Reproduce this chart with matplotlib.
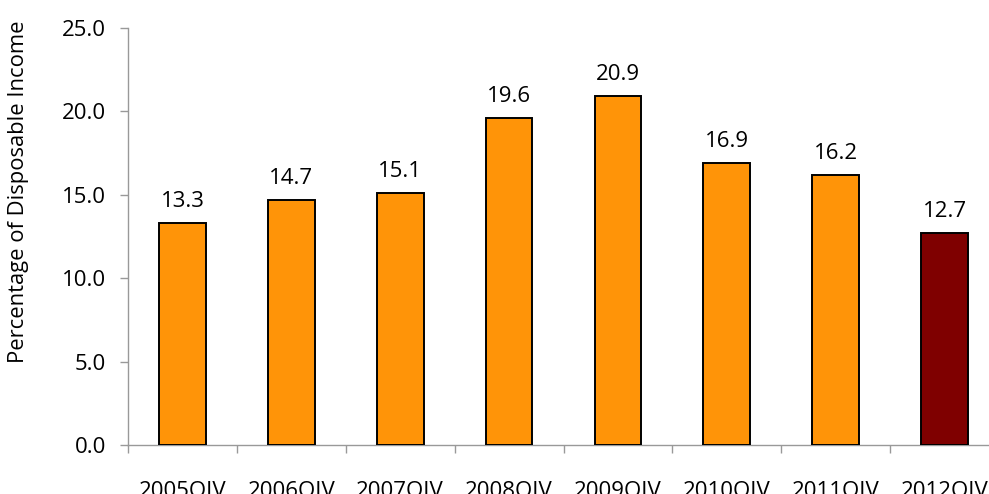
import matplotlib.pyplot as plt
import numpy as np

plt.rcParams['font.family'] = ['Open Sans', 'DejaVu Sans']

# Household debt service figures, Q4 of each year
quarters = ['2005QIV', '2006QIV', '2007QIV', '2008QIV',
            '2009QIV', '2010QIV', '2011QIV', '2012QIV']
values = [13.3, 14.7, 15.1, 19.6, 20.9, 16.9, 16.2, 12.7]
bar_colors = ['#FF9408'] * 7 + ['#7F0000']

fig = plt.figure(figsize=(9.89, 4.94), dpi=100)
ax = fig.add_axes([128 / 989, 1 - 445 / 494, 871 / 989, 417 / 494])

x = np.arange(len(quarters))
bars = ax.bar(x, values, width=0.43, color=bar_colors,
              edgecolor='black', linewidth=1.4, zorder=3)

# value labels over each bar
for xi, v in zip(x, values):
    ax.annotate(f'{v:.1f}', (xi, v), xytext=(0, 11.5), textcoords='offset points',
                ha='center', va='baseline', fontsize=16)

ax.set_xlim(-0.5, len(quarters) - 0.5)
ax.set_ylim(0, 25)
ax.set_yticks(np.arange(0, 25.1, 5))
ax.set_yticklabels([f'{t:.1f}' for t in np.arange(0, 25.1, 5)], fontsize=16)

# category labels centred, tick marks on category boundaries
ax.set_xticks(x)
ax.set_xticklabels(quarters, fontsize=16)
ax.tick_params(axis='x', length=0, pad=25.5)
ax.set_xticks(np.arange(-0.5, len(quarters), 1), minor=True)
ax.tick_params(axis='x', which='minor', length=6, color='#999999', width=1)
ax.tick_params(axis='y', length=6, color='#999999', width=1, pad=10)

for side in ['top', 'right']:
    ax.spines[side].set_visible(False)
for side in ['left', 'bottom']:
    ax.spines[side].set_color('#999999')
    ax.spines[side].set_linewidth(1)

fig.text(19 / 989, 1 - 192 / 494, 'Percentage of Disposable Income',
         rotation=90, ha='center', va='center', fontsize=15.8)

fig.savefig('out.png', dpi=100)
